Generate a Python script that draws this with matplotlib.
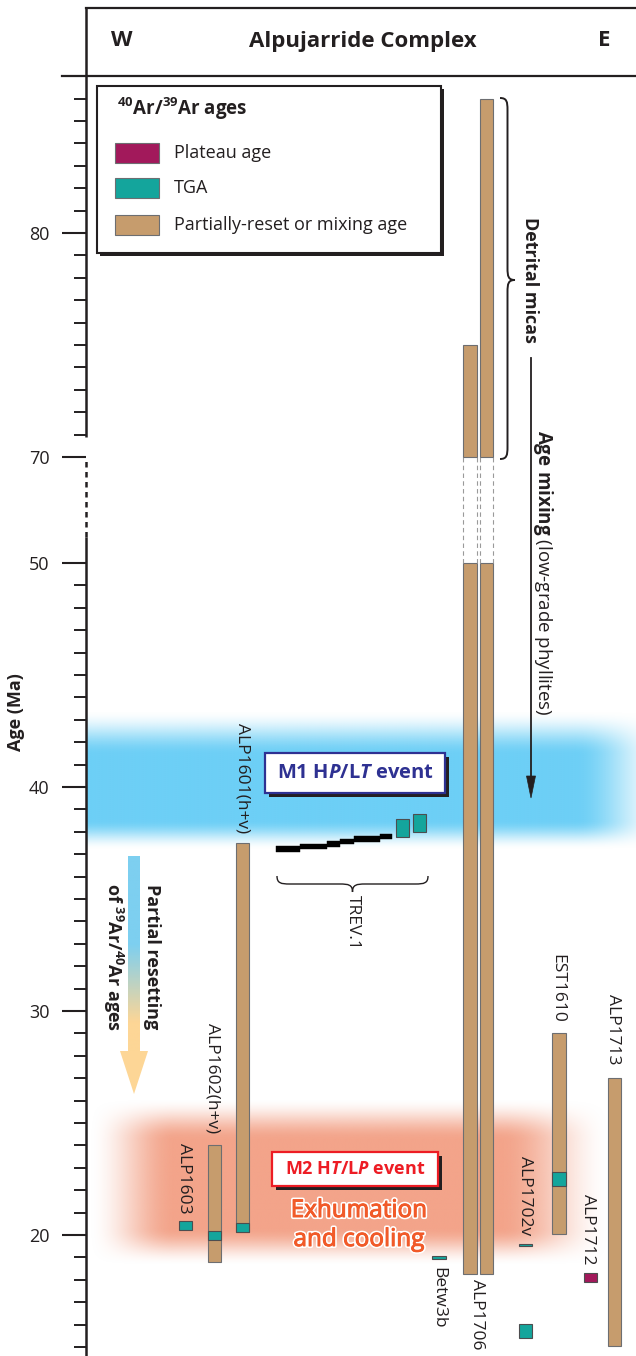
import numpy as np
import matplotlib
matplotlib.use('Agg')
import matplotlib.pyplot as plt
from matplotlib.patches import Rectangle, Polygon, PathPatch
from matplotlib.path import Path
import matplotlib.patheffects as pe

plt.rcParams['font.family'] = ['Open Sans', 'DejaVu Sans']
plt.rcParams['mathtext.fontset'] = 'custom'
plt.rcParams['mathtext.default'] = 'regular'
plt.rcParams['mathtext.rm'] = 'Open Sans'
plt.rcParams['mathtext.it'] = 'Open Sans:italic:bold'
plt.rcParams['mathtext.bf'] = 'Open Sans:bold'

# ------------------------------------------------------------------ data
# partially-reset / mixing ages (Ma)
partial_samples = ['ALP1602(h+v)', 'ALP1601(h+v)', 'ALP1706', 'ALP1706', 'EST1610', 'ALP1713']
partial_bottom = [18.8, 20.13, 18.26, 18.26, 20.04, 15.04]
partial_top = [24.0, 37.5, 75.0, 86.0, 29.0, 27.0]

# total gas ages (Ma)
tga_samples = ['ALP1603', 'ALP1602(h+v)', 'ALP1601(h+v)', 'TREV.1', 'TREV.1',
               'Betw3b', 'ALP1702v', 'ALP1702v', 'EST1610']
tga_bottom = [20.22, 19.78, 20.13, 37.77, 38.0, 18.95, 19.5, 15.4, 22.2]
tga_top = [20.63, 20.18, 20.53, 38.57, 38.8, 19.05, 19.6, 16.03, 22.8]

# plateau ages (Ma)
plateau_samples = ['ALP1712']
plateau_bottom = [17.9]
plateau_top = [18.3]

# TREV.1 age spectrum steps
trev_step_age = [37.23, 37.35, 37.46, 37.57, 37.68, 37.79]
trev_step_err = 0.12
trev_cum_fraction = [0.0, 0.21, 0.44, 0.55, 0.67, 0.90, 1.0]

# axis ticks
age_major = [20, 30, 40, 50, 70, 80]
age_minor = [a for a in list(range(15, 50)) + list(range(71, 87)) if a not in age_major]

label_names = ['ALP1603', 'ALP1602(h+v)', 'ALP1601(h+v)', 'TREV.1', 'Betw3b',
               'ALP1706', 'ALP1702v', 'EST1610', 'ALP1712', 'ALP1713']

legend_labels = ['Plateau age', 'TGA', 'Partially-reset or mixing age']

# ------------------------------------------------------------------ layout / style
W, H = 636, 1356
PX_PER_MA = 22.4
Y20 = 1235
GAP = (563 - 457) / PX_PER_MA  # axis-break gap in Ma units

partial_x = [214.5, 242.5, 470.0, 486.5, 559.0, 614.5]
tga_x = [185.5, 214.5, 242.5, 402.5, 419.5, 439.0, 525.5, 525.5, 559.0]
plateau_x = [590.5]
bar_w = 13.5
trev_x0, trev_x1 = 276, 392
label_xy = [(184, 1178), (213, 1078), (242, 778), (353, 922), (438, 1298),
            (477, 1314), (525, 1196), (557, 988), (588, 1229), (613, 1029)]

C_TAN = '#C69C6D'
C_TGA = '#14A59C'
C_PLAT = '#A2195B'
C_EDGE = '#6D6E71'


def to_plot(a):
    a = np.asarray(a, dtype=float)
    return np.where(a <= 50, a, 50 + GAP + (a - 70))


def px2plot(ypx):
    return 20 + (Y20 - ypx) / PX_PER_MA


fig = plt.figure(figsize=(W / 100, H / 100), dpi=100)
ax = fig.add_axes([0, 0, 1, 1])
ax.set_xlim(0, W)
ax.set_ylim(px2plot(H), px2plot(0))

# ---- background bands
def band_image(x0, x1, y0, y1, rgb, vprof, hprof, n=400):
    xs = np.linspace(x0, x1, n)
    ys = np.linspace(y0, y1, n)
    va = np.interp(ys, *vprof)
    ha = np.interp(xs, *hprof)
    va = va * va * (3 - 2 * va)
    ha = ha * ha * (3 - 2 * ha)
    a = va[:, None] * ha[None, :]
    img = np.zeros((n, n, 4))
    img[..., 0] = rgb[0] / 255
    img[..., 1] = rgb[1] / 255
    img[..., 2] = rgb[2] / 255
    img[..., 3] = a
    ax.imshow(img, extent=(x0, x1, px2plot(y1), px2plot(y0)), origin='upper',
              aspect='auto', zorder=0, interpolation='bilinear')

band_image(86, 636, 700, 860, (109, 207, 246),
           ([700, 710, 755, 820, 850, 860], [0, 0, 1, 1, 0, 0]),
           ([86, 575, 636], [1, 1, 0.35]))
band_image(86, 636, 1090, 1275, (243, 164, 138),
           ([1090, 1098, 1140, 1228, 1266, 1275], [0, 0, 1, 1, 0, 0]),
           ([86, 92, 175, 500, 612, 636], [0, 0.05, 1, 1, 0, 0]))

# ---- partial / mixing bars (with axis break)
pb = np.array(partial_bottom)
pt = np.array(partial_top)
lower_top = np.minimum(pt, 50)
ax.bar(partial_x, to_plot(lower_top) - to_plot(pb), bottom=to_plot(pb), width=bar_w,
       color=C_TAN, edgecolor=C_EDGE, linewidth=0.8, zorder=3)
brk = [i for i in range(len(pt)) if pt[i] > 70]
if brk:
    ux = [partial_x[i] for i in brk]
    ub = to_plot(np.full(len(brk), 70.0))
    ut = to_plot(pt[brk])
    ax.bar(ux, ut - ub, bottom=ub, width=bar_w, color=C_TAN, edgecolor=C_EDGE,
           linewidth=0.8, zorder=3)
    edges = [x - bar_w / 2 for x in ux] + [x + bar_w / 2 for x in ux]
    ax.vlines(edges, to_plot(50), to_plot(70), colors='#9A9A9A',
              linestyles=(0, (4, 3)), linewidth=0.8, zorder=3)

# ---- TGA and plateau boxes
tb = to_plot(tga_bottom)
tt = to_plot(tga_top)
ax.bar(tga_x, tt - tb, bottom=tb, width=bar_w, color=C_TGA, edgecolor='#4D4D4F',
       linewidth=0.8, zorder=4)
ax.bar(plateau_x, to_plot(plateau_top) - to_plot(plateau_bottom),
       bottom=to_plot(plateau_bottom), width=bar_w, color=C_PLAT, edgecolor='#4D4D4F',
       linewidth=0.8, zorder=4)

# ---- TREV.1 step spectrum
cf = np.array(trev_cum_fraction)
sx0 = trev_x0 + cf[:-1] * (trev_x1 - trev_x0)
sw = np.diff(cf) * (trev_x1 - trev_x0)
sa = np.array(trev_step_age)
ax.bar(sx0, 2 * trev_step_err, bottom=sa - trev_step_err, width=sw, align='edge',
       color='black', edgecolor='black', linewidth=0.3, zorder=4)

# ---- y axis ticks
ax.spines['left'].set_position(('data', 86))
for s in ['top', 'right', 'bottom', 'left']:
    ax.spines[s].set_visible(False)
ax.set_xticks([])
ax.set_yticks(to_plot(age_major))
ax.set_yticklabels([str(a) for a in age_major])
ax.set_yticks(to_plot(age_minor), minor=True)
ax.tick_params(axis='y', which='major', direction='out', length=17.3, width=1.5,
               pad=9, labelsize=13, colors='#231F20')
ax.tick_params(axis='y', which='minor', direction='out', length=8.6, width=1.4,
               colors='#231F20')

# ------------------------------------------------------------------ overlay (pixel coords)
ov = fig.add_axes([0, 0, 1, 1])
ov.set_xlim(0, W)
ov.set_ylim(H, 0)
ov.axis('off')
ov.patch.set_visible(False)

K = '#231F20'
# spine with break
ov.plot([86, 86], [H, 537], color=K, lw=1.8, solid_capstyle='butt')
ov.plot([86, 86], [537, 459], color=K, lw=1.8, ls=(0, (2.2, 1.8)))
ov.plot([86, 86], [437, 8], color=K, lw=1.8, solid_capstyle='butt')
# header box
ov.plot([86, W], [8, 8], color=K, lw=1.6)
ov.plot([62, W], [75.5, 75.5], color=K, lw=1.6)
ov.text(122, 41, 'W', fontsize=16, fontweight='bold', ha='center', va='center', color=K)
ov.text(363, 41, 'Alpujarride Complex', fontsize=16, fontweight='bold', ha='center',
        va='center', color=K)
ov.text(604, 41, 'E', fontsize=16, fontweight='bold', ha='center', va='center', color=K)

# y label
ov.text(16, 712, 'Age (Ma)', rotation=90, fontsize=13, fontweight='bold',
        ha='center', va='center', color=K)

# legend
ov.add_patch(Rectangle((100, 89), 344, 167, facecolor=K, edgecolor='none', zorder=5))
ov.add_patch(Rectangle((97, 86), 344, 167, facecolor='white', edgecolor=K, lw=1.5, zorder=6))
ov.text(117, 109, r'$^{40}$Ar/$^{39}$Ar ages', fontsize=13.5, fontweight='bold',
        ha='left', va='center', color=K, zorder=7)
for yc, col, lab in zip([153, 188, 225], [C_PLAT, C_TGA, C_TAN], legend_labels):
    ov.add_patch(Rectangle((115, yc - 10), 44, 20, facecolor=col, edgecolor=C_EDGE,
                           lw=0.8, zorder=7))
    ov.text(174, yc, lab, fontsize=13, ha='left', va='center', color=K, zorder=7)

# sample labels
for (lx, ly), name in zip(label_xy, label_names):
    ov.text(lx, ly, name, rotation=270, fontsize=12.5, ha='center', va='center',
            color=K, zorder=7)


def brace(a0, a1, c, h, tip=None, vertical=False, lw=1.1):
    am = (a0 + a1) / 2 if tip is None else tip
    q = h / 2
    L = max(1.6 * q, 6)
    pts = [(a0, c),
           (a0, c + 0.9 * q), (a0 + 0.3 * L, c + q), (a0 + L, c + q),
           (am - L, c + q),
           (am - 0.3 * L, c + q), (am, c + 1.1 * q), (am, c + h),
           (am, c + 1.1 * q), (am + 0.3 * L, c + q), (am + L, c + q),
           (a1 - L, c + q),
           (a1 - 0.3 * L, c + q), (a1, c + 0.9 * q), (a1, c)]
    codes = [Path.MOVETO] + [Path.CURVE4] * 3 + [Path.LINETO] + [Path.CURVE4] * 6 + \
            [Path.LINETO] + [Path.CURVE4] * 3
    if vertical:
        pts = [(v, u) for (u, v) in pts]
    ov.add_patch(PathPatch(Path(pts, codes), facecolor='none', edgecolor=K, lw=lw, zorder=6))


# TREV.1 brace
brace(277, 428, 876, 16, lw=1.0)
# detrital micas brace
brace(98, 459, 500, 15, tip=280, vertical=True, lw=1.4)
ov.text(530, 280, 'Detrital micas', rotation=270, fontsize=13, fontweight='bold',
        ha='center', va='center', color=K)

# age mixing arrow
ov.plot([531, 531], [358, 780], color=K, lw=1.3)
ov.add_patch(Polygon([(526.5, 776), (535.5, 776), (531, 798)], closed=True,
                     facecolor=K, edgecolor=K, lw=0.5))
ov.text(543, 430, r'$\mathbf{Age\ mixing}$ (low-grade phyllites)', rotation=270,
        fontsize=13.5, ha='center', va='top', color=K)

# M1 box
ov.add_patch(Rectangle((269, 757), 180, 40, facecolor=K, edgecolor='none', zorder=7))
ov.add_patch(Rectangle((265, 753), 180, 40, facecolor='white', edgecolor='#2E3192',
                       lw=1.6, zorder=8))
ov.text(355, 773, r'M1 H$\mathit{P}$/L$\mathit{T}$ event', fontsize=14.5,
        fontweight='bold', color='#2E3192', ha='center', va='center', zorder=9)

# M2 box
ov.add_patch(Rectangle((276, 1156), 166, 34, facecolor=K, edgecolor='none', zorder=7))
ov.add_patch(Rectangle((272, 1152), 166, 34, facecolor='white', edgecolor='#ED1C24',
                       lw=1.6, zorder=8))
ov.text(355, 1169, r'M2 H$\mathit{T}$/L$\mathit{P}$ event', fontsize=13,
        fontweight='bold', color='#ED1C24', ha='center', va='center', zorder=9)

for yy, txt in [(1211, 'Exhumation'), (1240, 'and cooling')]:
    ov.text(359, yy, txt, fontsize=17.5, color='#F15A29',
            ha='center', va='center', zorder=9,
            path_effects=[pe.withStroke(linewidth=3.0, foreground='white'),
                          pe.withStroke(linewidth=0.7, foreground='#F15A29')])

# partial resetting arrow (gradient)
n = 200
grad = np.zeros((n, 1, 3))
top_c = np.array([125, 207, 240]) / 255
bot_c = np.array([253, 214, 150]) / 255
tt_ = np.linspace(0, 1, n)
w_ = np.clip((tt_ - 0.45) / 0.4, 0, 1)
grad[:, 0, :] = top_c[None, :] * (1 - w_[:, None]) + bot_c[None, :] * w_[:, None]
ov.imshow(grad, extent=(128, 140, 1052, 856), aspect='auto', origin='upper', zorder=4)
ov.add_patch(Polygon([(120, 1051), (148, 1051), (134, 1094)], closed=True,
                     facecolor='#FDD696', edgecolor='none', zorder=4))
ov.text(152, 957, 'Partial resetting', rotation=270, fontsize=13, fontweight='bold',
        ha='center', va='center', color=K, zorder=6)
ov.text(113, 957, r'of $^{39}$Ar/$^{40}$Ar ages', rotation=270, fontsize=13,
        fontweight='bold', ha='center', va='center', color=K, zorder=6)

ov.set_xlim(0, W)
ov.set_ylim(H, 0)

fig.savefig('out.png', dpi=100)
